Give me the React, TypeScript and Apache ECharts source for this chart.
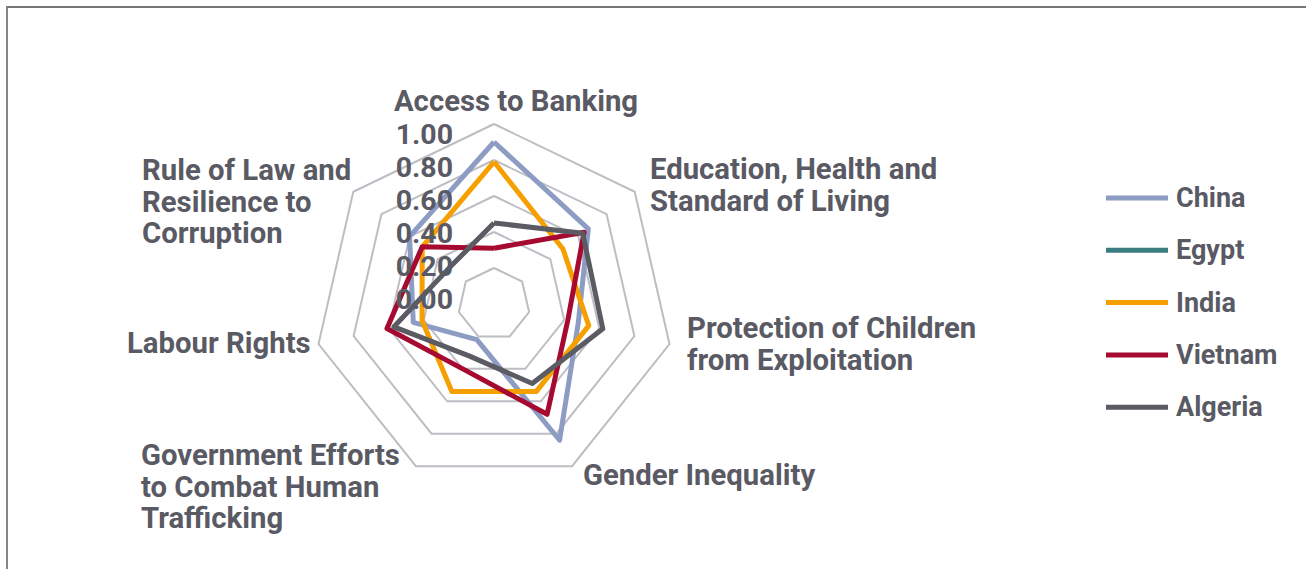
import React, { useEffect, useRef } from "react";
import * as echarts from "echarts";

// Indicators in clockwise order starting from the top
const categories = [
  "Access to Banking",
  "Education, Health and\nStandard of Living",
  "Protection of Children\nfrom Exploitation",
  "Gender Inequality",
  "Government Efforts\nto Combat Human\nTrafficking",
  "Labour Rights",
  "Rule of Law and\nResilience to\nCorruption",
];

const seriesNames = ["China", "Egypt", "India", "Vietnam", "Algeria"];
const seriesColors = ["#8d9cc2", "#3a7c80", "#f5a000", "#a60a30", "#5a5b63"];

const china = [0.9, 0.67, 0.48, 0.84, 0.22, 0.46, 0.6];
const egypt: (number | string)[] = ["-", "-", "-", "-", "-", "-", "-"];
const india = [0.79, 0.49, 0.54, 0.54, 0.54, 0.41, 0.51];
const vietnam = [0.31, 0.64, 0.42, 0.68, 0.4, 0.61, 0.51];
const algeria = [0.45, 0.63, 0.62, 0.49, 0.32, 0.57, 0.32];

const tickLabels = ["1.00", "0.80", "0.60", "0.40", "0.20", "0.00"];

const TEXT = "#595a63";
const FONT = "Roboto";

// category label placement (layout only)
const catLayout: { x: number; y: number; align: "left" | "center" }[] = [
  { x: 516, y: 101, align: "center" },
  { x: 650, y: 169, align: "left" },
  { x: 687, y: 328, align: "left" },
  { x: 583, y: 475, align: "left" },
  { x: 141, y: 455, align: "left" },
  { x: 127, y: 343, align: "left" },
  { x: 142, y: 170, align: "left" },
];

// ECharts lays radar indicators counter-clockwise; reorder to get clockwise
const order = [0, 6, 5, 4, 3, 2, 1];
const reorder = (arr: any[]) => order.map((i) => arr[i]);

export default function App() {
  const ref = useRef<HTMLDivElement>(null);
  useEffect(() => {
    if (!ref.current) return;
    const chart = echarts.init(ref.current, null, { renderer: "svg" });
    const values = [china, egypt, india, vietnam, algeria];
    const LH = 31.5;
    const graphics: any[] = [];
    categories.forEach((c, i) => {
      const l = catLayout[i];
      graphics.push({
        type: "text",
        x: l.x,
        y: l.y - LH / 2,
        z: 100,
        style: {
          text: c,
          fill: TEXT,
          font: `bold 29.3px ${FONT}`,
          textAlign: l.align,
          textVerticalAlign: "top",
          lineHeight: LH,
        },
      });
    });
    tickLabels.forEach((t, i) => {
      graphics.push({
        type: "text",
        x: 453,
        y: 134 + i * 33,
        z: 100,
        style: {
          text: t,
          fill: TEXT,
          font: `bold 28.5px ${FONT}`,
          textAlign: "right",
          textVerticalAlign: "middle",
        },
      });
    });
    chart.setOption({
      animation: false,
      backgroundColor: "transparent",
      legend: {
        orient: "vertical",
        left: 1101,
        top: 178,
        icon: "rect",
        itemWidth: 62,
        itemHeight: 5,
        itemGap: 22.3,
        data: seriesNames.map((n, i) => ({
          name: n,
          itemStyle: { color: seriesColors[i], opacity: 1 },
        })),
        textStyle: {
          color: TEXT,
          fontFamily: FONT,
          fontWeight: "bold",
          fontSize: 27,
          lineHeight: 30,
          padding: [0, 0, 0, 3],
        },
      },
      radar: {
        center: [494, 304],
        radius: 180,
        startAngle: 90,
        splitNumber: 5,
        shape: "polygon",
        indicator: reorder(categories).map((c) => ({ name: c, min: 0, max: 1 })),
        axisName: { show: false },
        axisLine: { show: false },
        axisTick: { show: false },
        axisLabel: { show: false },
        splitLine: { lineStyle: { color: "#bdbdc4", width: 2 } },
        splitArea: { show: false },
      },
      graphic: graphics,
      series: seriesNames.map((n, i) => ({
        type: "radar",
        name: n,
        symbol: "none",
        lineStyle: { color: seriesColors[i], width: 5 },
        itemStyle: { color: seriesColors[i] },
        data: [{ name: n, value: reorder(values[i]) }],
        z: 2 + i,
      })),
    });
    return () => chart.dispose();
  }, []);
  return (
    <div
      style={{
        position: "fixed",
        left: 0,
        top: 0,
        width: 1306,
        height: 569,
        overflow: "hidden",
        background: "#fff",
      }}
    >
      <div
        style={{
          position: "absolute",
          left: 6,
          top: 6,
          width: 1400,
          height: 700,
          borderLeft: "2px solid #858585",
          borderTop: "2px solid #757575",
        }}
      />
      <div ref={ref} style={{ position: "absolute", left: 0, top: 0, width: 1306, height: 569 }} />
    </div>
  );
}
